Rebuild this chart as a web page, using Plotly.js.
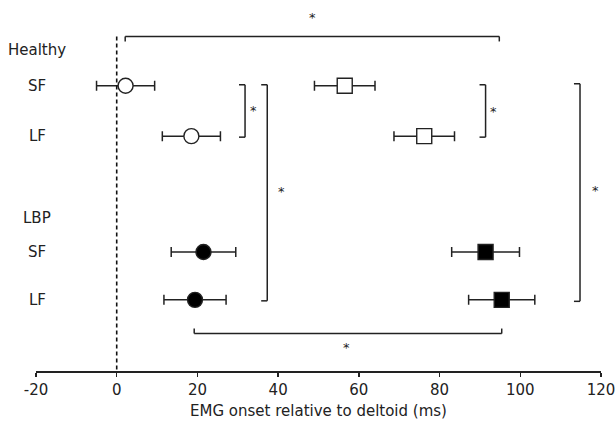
<!DOCTYPE html>
<html>
<head>
<meta charset="utf-8">
<script src="https://cdn.plot.ly/plotly-3.0.1.min.js"></script>
<style>html,body{margin:0;padding:0;background:#fff}#chart{width:615px;height:423px}</style>
</head>
<body>
<div id="chart"></div>
<script>
// ---- data ----
var groups = ["Healthy", "LBP"];
var conditions = ["SF", "LF"];
// circles (first muscle) mean onset and error, order: Healthy SF, Healthy LF, LBP SF, LBP LF
var circleMean = [2.2, 18.5, 21.5, 19.4];
var circleErr  = [7.2, 7.2, 8.0, 7.7];
// squares (second muscle)
var squareMean = [56.5, 76.2, 91.4, 95.4];
var squareErr  = [7.5, 7.5, 8.4, 8.2];
var xTicks = [-20, 0, 20, 40, 60, 80, 100, 120];
var xTitle = "EMG onset relative to deltoid (ms)";

// ---- layout helpers (row positions) ----
var rowY = [1, 2, 4.3, 5.25];
var groupY = [0.28, 3.62];
var ink = "#222";
var fontFam = "DejaVu Sans, sans-serif";

var isHealthy = [true, true, false, false];
var traces = [];
for (var i = 0; i < 4; i++) {
  var open = isHealthy[i];
  traces.push({
    x: [circleMean[i]], y: [rowY[i]], type: "scatter", mode: "markers",
    error_x: {type: "data", array: [circleErr[i]], visible: true, color: ink, thickness: 1.5, width: 5},
    marker: {symbol: "circle", size: 15, color: open ? "#fff" : "#000", line: {color: ink, width: 1.4}},
    showlegend: false, hoverinfo: "x"
  });
  traces.push({
    x: [squareMean[i]], y: [rowY[i]], type: "scatter", mode: "markers",
    error_x: {type: "data", array: [squareErr[i]], visible: true, color: ink, thickness: 1.5, width: 5},
    marker: {symbol: "square", size: 15, color: open ? "#fff" : "#000", line: {color: ink, width: 1.4}},
    showlegend: false, hoverinfo: "x"
  });
}

var shapes = [];
function seg(x0, y0, x1, y1) {
  shapes.push({type: "line", xref: "x", yref: "y", x0: x0, y0: y0, x1: x1, y1: y1,
    line: {color: ink, width: 1.5}});
}
// dashed zero line
shapes.push({type: "line", xref: "x", yref: "y", x0: 0, x1: 0, y0: 0.02, y1: 6.663,
  line: {color: "#111", width: 1.6, dash: "4px,3px"}});

var tickY = 0.1, tickX = 1.5;
// top horizontal bracket (Healthy circles vs Healthy squares)
var topY = 0.02;
seg(2.1, topY, 94.8, topY); seg(2.1, topY, 2.1, topY + tickY); seg(94.8, topY, 94.8, topY + tickY);
// bottom horizontal bracket (LBP)
var botY = 5.92;
seg(19.2, botY, 95.4, botY); seg(19.2, botY, 19.2, botY - tickY); seg(95.4, botY, 95.4, botY - tickY);
// vertical brackets
function vbr(x, y0, y1) {
  seg(x, y0, x, y1); seg(x - tickX, y0, x, y0); seg(x - tickX, y1, x, y1);
}
vbr(31.8, 0.98, 2.02);
vbr(37.3, 0.98, 5.27);
vbr(91.4, 0.98, 2.02);
vbr(114.8, 0.96, 5.28);

var annotations = [];
function star(x, y) {
  annotations.push({x: x, y: y, xref: "x", yref: "y", text: "*", showarrow: false,
    font: {family: fontFam, size: 13, color: ink}, xanchor: "center", yanchor: "middle"});
}
star(48.5, -0.36);
star(33.9, 1.50);
star(40.8, 3.09);
star(93.4, 1.52);
star(118.6, 3.07);
star(56.9, 6.20);

function rowLabel(text, y) {
  annotations.push({x: 37, y: y, xref: "paper", yref: "y", text: text, showarrow: false,
    font: {family: fontFam, size: 15, color: ink}, xanchor: "center", yanchor: "middle"});
}
for (var g = 0; g < groups.length; g++) {
  rowLabel(groups[g], groupY[g]);
  for (var c = 0; c < conditions.length; c++) rowLabel(conditions[c], rowY[g * 2 + c]);
}
var L = 36, R = 14, W = 615;
annotations.forEach(function (a) {
  if (a.xref === "paper") a.x = (a.x - L) / (W - L - R);
});

var layout = {
  width: 615, height: 423,
  margin: {l: L, r: R, t: 0, b: 52, pad: 0},
  paper_bgcolor: "#fff", plot_bgcolor: "#fff",
  font: {family: fontFam, color: ink},
  xaxis: {
    range: [-20, 120], tickvals: xTicks, ticktext: xTicks.map(String),
    showgrid: false, zeroline: false, showline: true, linecolor: ink, linewidth: 1.5,
    ticks: "outside", ticklen: 4, tickwidth: 1.5, tickcolor: ink,
    ticklabeloverflow: "allow", automargin: false,
    tickfont: {family: fontFam, size: 15, color: ink},
    title: {text: xTitle, font: {family: fontFam, size: 15, color: ink}, standoff: 8}
  },
  yaxis: {
    range: [6.663, -0.703], showgrid: false, zeroline: false, showline: false,
    showticklabels: false, ticks: ""
  },
  shapes: shapes,
  annotations: annotations
};
Plotly.newPlot("chart", traces, layout, {displayModeBar: false, staticPlot: true});
</script>
</body>
</html>
